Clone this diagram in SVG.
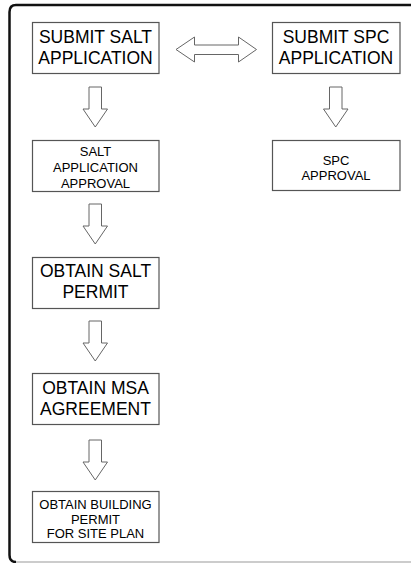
<svg xmlns="http://www.w3.org/2000/svg" width="411" height="563" viewBox="0 0 411 563">
<style>
.box{fill:#fff;stroke:#555;stroke-width:1.2}
.arr{fill:#fff;stroke:#666;stroke-width:1}
.big{font-family:"Liberation Sans",Arial,sans-serif;font-size:17.5px;fill:#000;text-anchor:middle}
.sm{font-family:"Liberation Sans",Arial,sans-serif;font-size:13px;fill:#000;text-anchor:middle}
</style>
<rect width="411" height="563" fill="#fff"/>
<g id="frame">
<path d="M 420 5 H 16 Q 9.5 5 9.5 12 V 555 Q 9.5 562 16 562" fill="none" stroke="#111" stroke-width="2.5"/>
<path d="M 16 562 H 420" fill="none" stroke="#bbb" stroke-width="1.5"/>
</g>
<g id="connectors">
<path class="arr" d="M176 49.5 L194.5 37 V45 H238.5 V37 L256.5 49.5 L238.5 62 V54.5 H194.5 V62 Z"/>
<path class="arr" d="M89 87 H101.5 V109 H107.5 L95.25 127 L83 109 H89 Z"/>
<path class="arr" d="M329.5 87 H342 V109 H348 L335.75 127 L323.5 109 H329.5 Z"/>
<path class="arr" d="M89 204 H101.5 V226 H107.5 L95.25 244 L83 226 H89 Z"/>
<path class="arr" d="M89 321 H101.5 V343 H107.5 L95.25 361 L83 343 H89 Z"/>
<path class="arr" d="M89 440 H101.5 V462 H107.5 L95.25 480 L83 462 H89 Z"/>
</g>
<g id="submit-salt">
<rect class="box" x="32.5" y="22.5" width="126.5" height="51"/>
<text class="big" x="95.5" y="43">SUBMIT SALT</text>
<text class="big" x="95.5" y="63.5">APPLICATION</text>
</g>
<g id="submit-spc">
<rect class="box" x="272.5" y="22.5" width="127.5" height="51"/>
<text class="big" x="336" y="43">SUBMIT SPC</text>
<text class="big" x="336" y="63.5">APPLICATION</text>
</g>
<g id="salt-approval">
<rect class="box" x="32.5" y="140.5" width="126.5" height="51"/>
<text class="sm" x="95.5" y="156">SALT</text>
<text class="sm" x="95.5" y="172">APPLICATION</text>
<text class="sm" x="95.5" y="188">APPROVAL</text>
</g>
<g id="spc-approval">
<rect class="box" x="272.5" y="140.5" width="127.5" height="50"/>
<text class="sm" x="336" y="164.5">SPC</text>
<text class="sm" x="336" y="180">APPROVAL</text>
</g>
<g id="salt-permit">
<rect class="box" x="32.5" y="257.5" width="126.5" height="51"/>
<text class="big" x="95.5" y="277">OBTAIN SALT</text>
<text class="big" x="95.5" y="298">PERMIT</text>
</g>
<g id="msa-agreement">
<rect class="box" x="32.5" y="373.5" width="126.5" height="51"/>
<text class="big" x="95.5" y="394">OBTAIN MSA</text>
<text class="big" x="95.5" y="415">AGREEMENT</text>
</g>
<g id="building-permit">
<rect class="box" x="32.5" y="491.5" width="126.5" height="51"/>
<text class="sm" x="95.5" y="508.5">OBTAIN BUILDING</text>
<text class="sm" x="95.5" y="523.5">PERMIT</text>
<text class="sm" x="95.5" y="538">FOR SITE PLAN</text>
</g>
</svg>
